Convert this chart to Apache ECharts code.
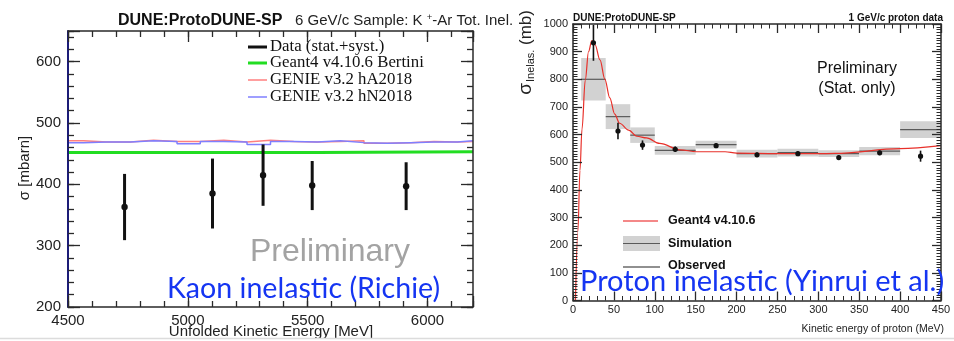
<!DOCTYPE html>
<html><head><meta charset="utf-8">
<script src="https://cdn.jsdelivr.net/npm/echarts@6/dist/echarts.min.js"></script>
<style>html,body{margin:0;padding:0;background:#fff}#c{width:954px;height:341px}</style>
</head><body><div id="c"></div>
<script>
// ---------- Left panel: K+ -Ar total inelastic ----------
const kaonEnergy = [4736, 5103, 5314, 5519, 5911];
const kaonSigma  = [363, 385, 415, 398, 397];
const kaonErr    = [54, 57, 50, 40, 39];
const modelEdges = [4500, 4565, 4662, 4760, 4857, 4955, 5052, 5150, 5247, 5345, 5442, 5540, 5637, 5735, 5832, 5930, 6027, 6125, 6190];
const genieHA    = [471, 469, 469, 472, 470, 470, 472, 469, 472, 470, 469, 470, 471, 467, 468, 470, 469, 470];
const genieHN    = [468, 469, 469, 471, 470, 466, 470, 469, 465, 470, 469, 471, 468, 467, 468, 469, 469, 471];
const bertiniEdges = [4500, 5540, 6190];
const bertini      = [452, 453];
const kaonXTicks = [4500, 5000, 5500, 6000];
const kaonYTicks = [200, 300, 400, 500, 600];

// ---------- Right panel: proton inelastic ----------
const simLow  = [10, 40, 70, 100, 150, 200, 250, 300, 350, 400];
const simHigh = [40, 70, 100, 150, 200, 250, 300, 350, 400, 450];
const simVal  = [800, 665, 598, 543, 564, 531, 535, 531, 540, 618];
const simErr  = [77, 45, 28, 16, 14, 14, 14, 12, 15, 30];
const obsE    = [25, 55, 85, 125, 175, 225, 275, 325, 375, 425];
const obsSig  = [932, 613, 562, 547, 560, 527, 531, 517, 534, 522];
const obsErr  = [65, 30, 17, 10, 8, 8, 8, 8, 8, 20];
const g4E     = [3, 6, 8.5, 11, 15, 19, 23, 27, 33, 39, 45, 51, 57, 68, 78, 90, 106, 131, 151, 186, 200, 250, 300, 320, 400, 450];
const g4Sig   = [0, 250, 470, 620, 797, 900, 940, 925, 870, 800, 733, 674, 641, 616, 594, 588, 568, 545, 538, 538, 533, 531, 531, 532, 549, 560];
const protonXTicks = [0, 50, 100, 150, 200, 250, 300, 350, 400, 450];
const protonYTicks = [0, 100, 200, 300, 400, 500, 600, 700, 800, 900, 1000];

const FONT = 'Liberation Sans, Arial, Helvetica, sans-serif';
const SERIF = 'Liberation Serif, Times New Roman, serif';
const FRAME = '#2a2a2a';

function ax(gridIndex, position, min, max, interval, o) {
  o = o || {};
  return {
    type: 'value', gridIndex, position, min, max, interval,
    axisLine: {show: o.line !== false, onZero: false, lineStyle: {color: o.lineColor || FRAME, width: o.lineWidth || 1.5}},
    axisTick: {show: true, inside: true, length: o.tick, lineStyle: {color: FRAME, width: o.tickWidth || 1.3}},
    minorTick: o.minor ? {show: true, splitNumber: o.minor, length: o.minorLen, lineStyle: {color: FRAME, width: 1}} : {show: false},
    splitLine: {show: false}, minorSplitLine: {show: false},
    axisLabel: o.labels ? {
      show: true, color: '#222', fontFamily: FONT, fontSize: o.fontSize, margin: o.margin,
      formatter: v => o.labels.indexOf(v) >= 0 ? String(v) : ''
    } : {show: false},
    z: 10
  };
}

function stepData(edges, vals) {
  const d = vals.map((v, i) => [edges[i], v]);
  d.push([edges[edges.length - 1], vals[vals.length - 1]]);
  return d;
}

function errBar(width, r) {
  return function (params, api) {
    const x = api.value(0), y = api.value(1), e = api.value(2);
    const c = api.coord([x, y]), t = api.coord([x, y + e]), b = api.coord([x, y - e]);
    return {type: 'group', children: [
      {type: 'line', shape: {x1: c[0], y1: t[1], x2: c[0], y2: b[1]}, style: {stroke: '#111', lineWidth: width}},
      {type: 'circle', shape: {cx: c[0], cy: c[1], r: r}, style: {fill: '#111'}}
    ]};
  };
}

const chart = echarts.init(document.getElementById('c'));
chart.setOption({
  backgroundColor: '#fff',
  animation: false,
  grid: [
    {left: 68, top: 31, width: 405, height: 276, outerBoundsMode: 'none'},
    {left: 573, top: 24, width: 368, height: 276.5, outerBoundsMode: 'none'}
  ],
  xAxis: [
    ax(0, 'bottom', 4500, 6190, 500, {tick: 11, labels: kaonXTicks, fontSize: 15, margin: 6}),
    ax(0, 'bottom', 4500, 6190, 100, {tick: 6, line: false}),
    ax(0, 'top', 4500, 6190, 500, {tick: 11}),
    ax(0, 'top', 4500, 6190, 100, {tick: 6, line: false}),
    ax(1, 'bottom', 0, 450, 50, {tick: 9, minor: 5, minorLen: 4.5, labels: protonXTicks, fontSize: 11, margin: 4}),
    ax(1, 'top', 0, 450, 50, {tick: 9, minor: 5, minorLen: 4.5})
  ],
  yAxis: [
    ax(0, 'left', 200, 650, 100, {tick: 12, labels: kaonYTicks, fontSize: 15, margin: 7, lineColor: '#1c1c78', lineWidth: 2}),
    ax(0, 'left', 200, 650, 20, {tick: 6, line: false}),
    ax(0, 'right', 200, 650, 100, {tick: 12}),
    ax(0, 'right', 200, 650, 20, {tick: 6, line: false}),
    ax(1, 'left', 0, 1000, 100, {tick: 9, minor: 10, minorLen: 4.5, labels: protonYTicks, fontSize: 11, margin: 5}),
    ax(1, 'right', 0, 1000, 100, {tick: 9, minor: 10, minorLen: 4.5})
  ],
  series: [
    // left panel
    {type: 'line', name: 'GENIE v3.2 hA2018', xAxisIndex: 0, yAxisIndex: 0, step: 'end', symbol: 'none',
     data: stepData(modelEdges, genieHA), lineStyle: {color: '#ff7f7f', width: 1.5}, z: 3},
    {type: 'line', name: 'GENIE v3.2 hN2018', xAxisIndex: 0, yAxisIndex: 0, step: 'end', symbol: 'none',
     data: stepData(modelEdges, genieHN), lineStyle: {color: '#7f7fff', width: 1.5}, z: 3},
    {type: 'line', name: 'Geant4 v4.10.6 Bertini', xAxisIndex: 0, yAxisIndex: 0, step: 'end', symbol: 'none',
     data: stepData(bertiniEdges, bertini), lineStyle: {color: '#22dd22', width: 3}, z: 3},
    {type: 'custom', name: 'Data (stat.+syst.)', xAxisIndex: 0, yAxisIndex: 0,
     data: kaonEnergy.map((x, i) => [x, kaonSigma[i], kaonErr[i]]),
     encode: {x: 0, y: 1}, renderItem: errBar(3, 3.2), z: 5},
    // right panel
    {type: 'custom', name: 'Simulation', xAxisIndex: 4, yAxisIndex: 4,
     data: simLow.map((lo, i) => [lo, simHigh[i], simVal[i], simErr[i]]),
     encode: {x: [0, 1], y: 2},
     renderItem: function (params, api) {
       const lo = api.value(0), hi = api.value(1), v = api.value(2), e = api.value(3);
       const a = api.coord([lo, v + e]), b = api.coord([hi, v - e]);
       const m1 = api.coord([lo, v]), m2 = api.coord([hi, v]);
       return {type: 'group', children: [
         {type: 'rect', shape: {x: a[0], y: a[1], width: b[0] - a[0], height: b[1] - a[1]}, style: {fill: '#d2d2d2'}},
         {type: 'line', shape: {x1: m1[0], y1: m1[1], x2: m2[0], y2: m2[1]}, style: {stroke: '#5a5a5a', lineWidth: 1.2}}
       ]};
     }, z: 2},
    {type: 'line', name: 'Geant4 v4.10.6', xAxisIndex: 4, yAxisIndex: 4, symbol: 'none', smooth: 0.35, smoothMonotone: 'x',
     data: g4E.map((x, i) => [x, g4Sig[i]]), lineStyle: {color: '#e8302a', width: 1.2}, z: 3},
    {type: 'custom', name: 'Observed', xAxisIndex: 4, yAxisIndex: 4,
     data: obsE.map((x, i) => [x, obsSig[i], obsErr[i]]),
     encode: {x: 0, y: 1}, renderItem: errBar(1.6, 2.6), z: 5}
  ],
  graphic: [
    // left panel titles & labels
    {type: 'text', style: {text: 'DUNE:ProtoDUNE-SP', x: 118, y: 21, fontFamily: FONT, fontWeight: 'bold', fontSize: 16, fill: '#111', verticalAlign: 'middle'}},
    {type: 'text', style: {text: '{n|6 GeV/c Sample: K }{s|+}{n|-Ar Tot. Inel.}', x: 295, y: 21, verticalAlign: 'middle',
      rich: {n: {fontFamily: FONT, fontSize: 15, fill: '#222', lineHeight: 17}, s: {fontFamily: FONT, fontSize: 9.5, fill: '#222', verticalAlign: 'top', lineHeight: 17}}}},
    {type: 'text', rotation: Math.PI / 2, x: 25, y: 168, style: {text: 'σ [mbarn]', fontFamily: FONT, fontSize: 15, fill: '#222', align: 'center', verticalAlign: 'middle'}},
    {type: 'text', style: {text: 'Unfolded Kinetic Energy [MeV]', x: 271, y: 332, fontFamily: FONT, fontSize: 15, fill: '#222', align: 'center', verticalAlign: 'middle'}},
    // left legend
    {type: 'line', shape: {x1: 248, y1: 47, x2: 267, y2: 47}, style: {stroke: '#111', lineWidth: 3}},
    {type: 'line', shape: {x1: 248, y1: 63, x2: 267, y2: 63}, style: {stroke: '#22dd22', lineWidth: 3}},
    {type: 'line', shape: {x1: 248, y1: 80, x2: 267, y2: 80}, style: {stroke: '#ff7f7f', lineWidth: 1.5}},
    {type: 'line', shape: {x1: 248, y1: 97, x2: 267, y2: 97}, style: {stroke: '#7f7fff', lineWidth: 1.5}},
    {type: 'text', style: {text: 'Data (stat.+syst.)', x: 270, y: 47, fontFamily: SERIF, fontSize: 16.8, fill: '#111', verticalAlign: 'middle'}},
    {type: 'text', style: {text: 'Geant4 v4.10.6 Bertini', x: 270, y: 63, fontFamily: SERIF, fontSize: 16.8, fill: '#111', verticalAlign: 'middle'}},
    {type: 'text', style: {text: 'GENIE v3.2 hA2018', x: 270, y: 80, fontFamily: SERIF, fontSize: 16.8, fill: '#111', verticalAlign: 'middle'}},
    {type: 'text', style: {text: 'GENIE v3.2 hN2018', x: 270, y: 97, fontFamily: SERIF, fontSize: 16.8, fill: '#111', verticalAlign: 'middle'}},
    {type: 'text', style: {text: 'Preliminary', x: 330, y: 252, fontFamily: FONT, fontSize: 32, fill: '#a3a3a3', align: 'center', verticalAlign: 'middle'}},
    {type: 'text', z: 20, style: {text: 'Kaon inelastic (Richie)', x: 167, y: 289, fontFamily: 'Lato, Open Sans, sans-serif', fontSize: 28.6, fill: '#1535f2', verticalAlign: 'middle'}},
    // right panel titles & labels
    {type: 'text', style: {text: 'DUNE:ProtoDUNE-SP', x: 573, y: 18, fontFamily: FONT, fontWeight: 'bold', fontSize: 10, fill: '#111', verticalAlign: 'middle'}},
    {type: 'text', style: {text: '1 GeV/c proton data', x: 943, y: 18, fontFamily: FONT, fontWeight: 'bold', fontSize: 10, fill: '#111', align: 'right', verticalAlign: 'middle'}},
    {type: 'group', x: 526, y: 89, rotation: Math.PI / 2, children: [
      {type: 'text', style: {text: 'σ', x: 0, y: 0, fontFamily: FONT, fontSize: 19, fill: '#222', align: 'center', verticalAlign: 'middle'}},
      {type: 'text', style: {text: 'Inelas.', x: 7, y: 5, fontFamily: FONT, fontSize: 11, fill: '#222', align: 'left', verticalAlign: 'middle'}},
      {type: 'text', style: {text: '(mb)', x: 44, y: 0, fontFamily: FONT, fontSize: 17, fill: '#222', align: 'left', verticalAlign: 'middle'}}
    ]},
    {type: 'text', style: {text: 'Kinetic energy of proton (MeV)', x: 944, y: 329, fontFamily: FONT, fontSize: 10.5, fill: '#222', align: 'right', verticalAlign: 'middle'}},
    {type: 'text', style: {text: 'Preliminary', x: 857, y: 69, fontFamily: FONT, fontSize: 16, fill: '#111', align: 'center', verticalAlign: 'middle'}},
    {type: 'text', style: {text: '(Stat. only)', x: 857, y: 89, fontFamily: FONT, fontSize: 16, fill: '#111', align: 'center', verticalAlign: 'middle'}},
    // right legend
    {type: 'line', shape: {x1: 623, y1: 221, x2: 658, y2: 221}, style: {stroke: '#f06060', lineWidth: 1.5}},
    {type: 'rect', shape: {x: 623, y: 236, width: 37, height: 15}, style: {fill: '#d2d2d2'}},
    {type: 'line', shape: {x1: 623, y1: 243.5, x2: 660, y2: 243.5}, style: {stroke: '#5a5a5a', lineWidth: 1.2}},
    {type: 'line', shape: {x1: 623, y1: 267, x2: 660, y2: 267}, style: {stroke: '#222', lineWidth: 1.2}},
    {type: 'text', style: {text: 'Geant4 v4.10.6', x: 668, y: 221, fontFamily: FONT, fontWeight: 'bold', fontSize: 12.5, fill: '#111', verticalAlign: 'middle'}},
    {type: 'text', style: {text: 'Simulation', x: 668, y: 244, fontFamily: FONT, fontWeight: 'bold', fontSize: 12.5, fill: '#111', verticalAlign: 'middle'}},
    {type: 'text', style: {text: 'Observed', x: 668, y: 266, fontFamily: FONT, fontWeight: 'bold', fontSize: 12.5, fill: '#111', verticalAlign: 'middle'}},
    {type: 'text', z: 20, style: {text: 'Proton inelastic (Yinrui et al.)', x: 580, y: 282, fontFamily: 'Lato, Open Sans, sans-serif', fontSize: 29, fill: '#1535f2', verticalAlign: 'middle'}},
    // slide border line
    {type: 'line', shape: {x1: 0, y1: 338.5, x2: 954, y2: 338.5}, style: {stroke: '#dcdcdc', lineWidth: 1.5}}
  ]
});
</script>
</body></html>
